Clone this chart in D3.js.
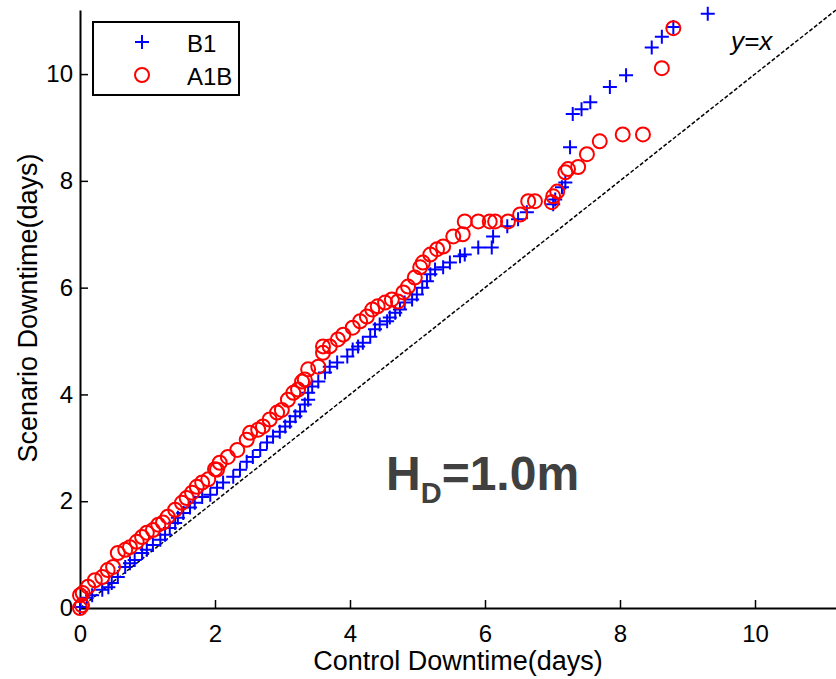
<!DOCTYPE html>
<html>
<head>
<meta charset="utf-8">
<script src="https://cdn.jsdelivr.net/npm/d3@7"></script>
<style>
  body { margin: 0; background: #fff; }
  svg { display: block; font-family: Arial, "Liberation Sans", sans-serif; }
</style>
</head>
<body>
<svg id="chart" width="836" height="679"></svg>
<script>
// series: [control, scenario] in days
const b1Points = [
  [0, 0.02], [0.1, 0.19], [0.18, 0.24], [0.33, 0.34], [0.42, 0.39], [0.47, 0.47], [0.56, 0.58], [0.67, 0.77],
  [0.74, 0.84], [0.81, 0.9], [0.92, 1.03], [0.99, 1.09], [1.08, 1.18], [1.19, 1.28], [1.26, 1.37], [1.33, 1.5],
  [1.41, 1.59], [1.45, 1.69], [1.53, 1.78], [1.63, 1.88], [1.7, 1.97], [1.81, 2.08], [1.93, 2.12], [2.03, 2.25],
  [2.12, 2.35], [2.27, 2.46], [2.37, 2.59], [2.47, 2.74], [2.56, 2.83], [2.67, 2.96], [2.77, 3.1], [2.86, 3.21],
  [2.96, 3.3], [3.04, 3.4], [3.11, 3.49], [3.19, 3.59], [3.26, 3.68], [3.33, 3.81], [3.38, 3.9], [3.38, 4.03],
  [3.44, 4.15], [3.53, 4.24], [3.63, 4.41], [3.7, 4.52], [3.81, 4.6], [3.96, 4.71], [4.04, 4.84], [4.12, 4.9],
  [4.19, 4.97], [4.3, 5.08], [4.37, 5.22], [4.44, 5.31], [4.55, 5.37], [4.59, 5.44], [4.67, 5.53], [4.74, 5.59],
  [4.81, 5.72], [4.92, 5.78], [4.99, 5.87], [5.07, 6.0], [5.14, 6.12], [5.19, 6.25], [5.26, 6.34], [5.38, 6.38],
  [5.48, 6.47], [5.63, 6.59], [5.7, 6.62], [5.9, 6.75], [6.1, 6.75], [6.12, 6.96], [6.33, 7.15], [6.49, 7.28],
  [6.62, 7.41], [7.01, 7.56], [7.04, 7.65], [7.14, 7.88], [7.19, 7.97], [7.26, 8.63], [7.3, 9.25], [7.43, 9.34],
  [7.56, 9.47], [7.85, 9.76], [8.09, 9.98], [8.47, 10.5], [8.62, 10.7], [8.79, 10.88], [9.3, 11.13]
];
const a1bPoints = [
  [0, 0], [0.03, 0.05], [0, 0.24], [0.04, 0.28], [0.12, 0.4], [0.22, 0.52], [0.33, 0.58], [0.41, 0.71],
  [0.49, 0.77], [0.56, 1.03], [0.67, 1.09], [0.74, 1.14], [0.84, 1.24], [0.92, 1.33], [0.99, 1.41], [1.08, 1.46],
  [1.16, 1.56], [1.23, 1.6], [1.3, 1.71], [1.41, 1.84], [1.51, 1.97], [1.58, 2.06], [1.66, 2.16], [1.73, 2.27],
  [1.81, 2.35], [1.9, 2.41], [2.0, 2.6], [2.03, 2.59], [2.07, 2.72], [2.19, 2.83], [2.33, 2.96], [2.47, 3.15],
  [2.52, 3.28], [2.64, 3.34], [2.71, 3.4], [2.81, 3.53], [2.92, 3.66], [2.99, 3.71], [3.08, 3.9], [3.16, 4.03],
  [3.23, 4.09], [3.29, 4.24], [3.33, 4.28], [3.38, 4.47], [3.53, 4.52], [3.6, 4.78], [3.6, 4.9], [3.7, 4.9],
  [3.82, 5.03], [3.9, 5.12], [4.04, 5.25], [4.15, 5.37], [4.25, 5.46], [4.33, 5.59], [4.41, 5.65], [4.52, 5.72],
  [4.62, 5.78], [4.71, 5.74], [4.79, 5.91], [4.86, 6.02], [4.96, 6.19], [5.04, 6.38], [5.08, 6.47], [5.19, 6.62],
  [5.29, 6.72], [5.38, 6.77], [5.53, 6.96], [5.67, 7.0], [5.7, 7.24], [5.9, 7.24], [6.07, 7.24], [6.15, 7.24],
  [6.34, 7.24], [6.52, 7.37], [6.64, 7.62], [6.74, 7.62], [6.99, 7.6], [7.01, 7.71], [7.07, 7.8], [7.19, 8.16],
  [7.23, 8.22], [7.38, 8.26], [7.51, 8.5], [7.7, 8.74], [8.04, 8.87], [8.34, 8.87], [8.62, 10.11], [8.79, 10.86]
];
const xTicks = [0, 2, 4, 6, 8, 10];
const yTicks = [0, 2, 4, 6, 8, 10];
const refLine = [[0, 0], [11.2, 11.2]]; // y = x
const seriesNames = ["B1", "A1B"];

const svg = d3.select("#chart");
const margin = { top: 10, right: 0, bottom: 71, left: 80 };
const W = +svg.attr("width");
const H = +svg.attr("height");

const x = d3.scaleLinear().domain([0, 11.2]).range([margin.left, W - margin.right]);
const y = d3.scaleLinear().domain([0, 11.2]).range([H - margin.bottom, margin.top]);

// y=x reference line (dashed)
svg.append("path")
  .attr("d", d3.line().x((d) => x(d[0])).y((d) => y(d[1]))(refLine))
  .attr("fill", "none")
  .attr("stroke", "#000")
  .attr("stroke-width", 1.5)
  .attr("stroke-dasharray", "4,2");

svg.append("text")
  .attr("x", 731)
  .attr("y", 50)
  .attr("font-size", 26)
  .attr("font-style", "italic")
  .text("y=x");

// axes, matlab style: ticks pointing inward
const xAxis = svg.append("g")
  .attr("transform", `translate(0,${y(0)})`)
  .call(d3.axisBottom(x).tickValues(xTicks).tickSizeInner(-8).tickSizeOuter(0).tickPadding(17));
const yAxis = svg.append("g")
  .attr("transform", `translate(${x(0)},0)`)
  .call(d3.axisLeft(y).tickValues(yTicks).tickSizeInner(-8).tickSizeOuter(0).tickPadding(7));

[xAxis, yAxis].forEach((g) => {
  g.select(".domain").attr("stroke", "#000").attr("stroke-width", 2);
  g.selectAll(".tick line").attr("stroke", "#000").attr("stroke-width", 1.5);
  g.selectAll(".tick text").attr("fill", "#000").attr("font-size", 24).attr("font-family", "Arial, 'Liberation Sans', sans-serif");
});

const plusPath = "M-7,0H7M0,-7V7";

// B1 markers
svg.append("g")
  .selectAll("path")
  .data(b1Points)
  .join("path")
  .attr("transform", (d) => `translate(${x(d[0])},${y(d[1])})`)
  .attr("d", plusPath)
  .attr("fill", "none")
  .attr("stroke", "#0000ff")
  .attr("stroke-width", 2);

// A1B markers
svg.append("g")
  .selectAll("circle")
  .data(a1bPoints)
  .join("circle")
  .attr("cx", (d) => x(d[0]))
  .attr("cy", (d) => y(d[1]))
  .attr("r", 7)
  .attr("fill", "none")
  .attr("stroke", "#ff0000")
  .attr("stroke-width", 2);

// legend
const legend = svg.append("g");
legend.append("rect")
  .attr("x", 93).attr("y", 22)
  .attr("width", 146).attr("height", 73)
  .attr("fill", "#fff")
  .attr("stroke", "#000")
  .attr("stroke-width", 2);
legend.append("path")
  .attr("transform", "translate(142,42)")
  .attr("d", plusPath)
  .attr("stroke", "#0000ff")
  .attr("stroke-width", 2);
legend.append("circle")
  .attr("cx", 142).attr("cy", 75).attr("r", 7)
  .attr("fill", "none")
  .attr("stroke", "#ff0000")
  .attr("stroke-width", 2);
legend.selectAll("text")
  .data(seriesNames)
  .join("text")
  .attr("x", 187)
  .attr("y", (d, i) => 52 + i * 33)
  .attr("font-size", 24)
  .text((d) => d);

// annotation
const note = svg.append("text")
  .attr("x", 386)
  .attr("y", 490)
  .attr("font-size", 48)
  .attr("font-weight", "bold")
  .attr("fill", "#404040");
note.append("tspan").text("H");
note.append("tspan").attr("font-size", 29).attr("dy", 13).text("D");
note.append("tspan").attr("dy", -13).text("=1.0m");

// axis titles
svg.append("text")
  .attr("x", 458)
  .attr("y", 670)
  .attr("text-anchor", "middle")
  .attr("font-size", 27)
  .text("Control Downtime(days)");

svg.append("text")
  .attr("transform", "translate(37,308) rotate(-90)")
  .attr("text-anchor", "middle")
  .attr("font-size", 27)
  .text("Scenario Downtime(days)");
</script>
</body>
</html>
